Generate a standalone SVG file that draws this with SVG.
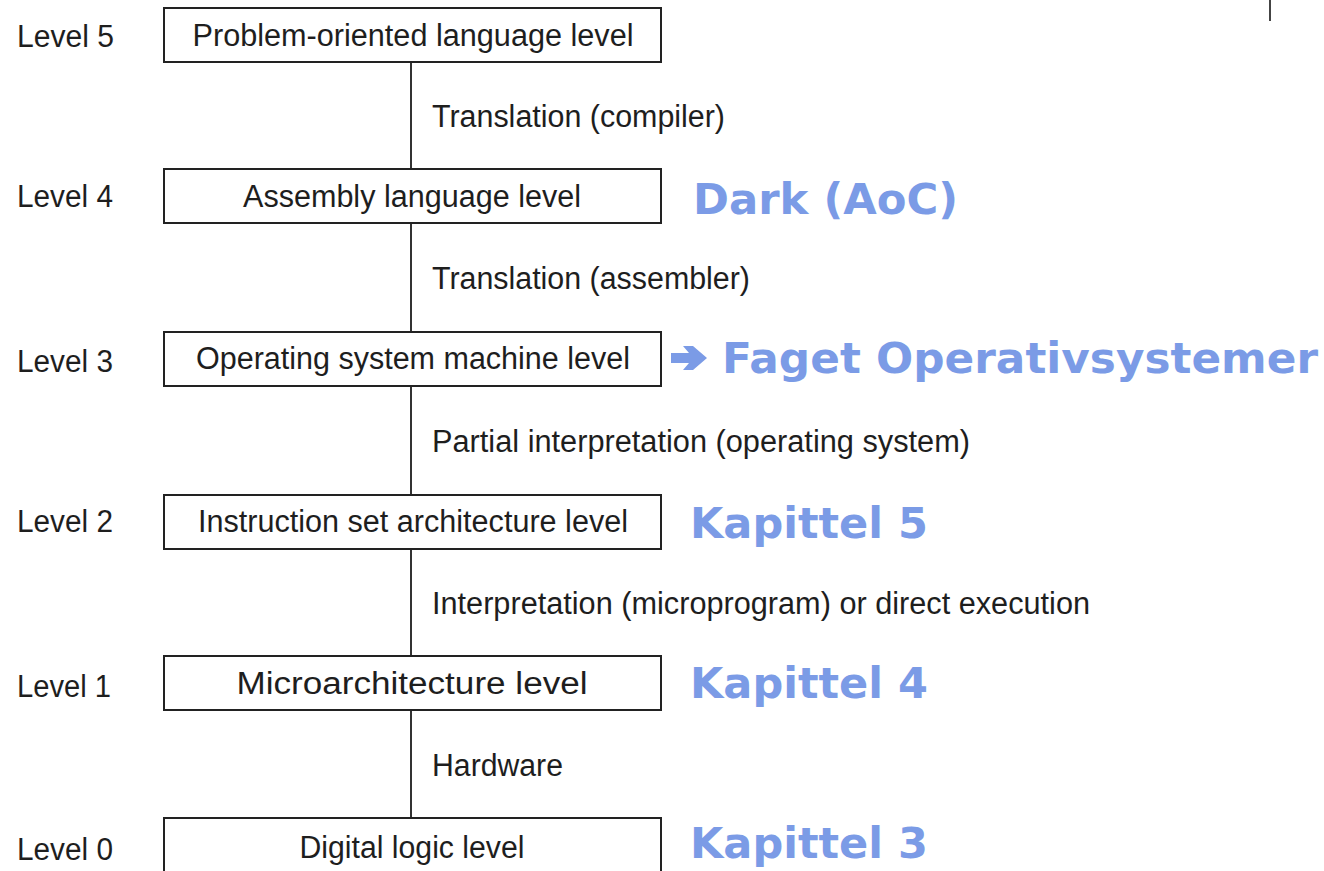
<svg xmlns="http://www.w3.org/2000/svg" width="1324" height="871" viewBox="0 0 1324 871">
<style>
.box{fill:#fff;stroke:#222;stroke-width:2}
.t{font-family:"Liberation Sans",Arial,sans-serif;font-size:31px;fill:#1e1e1e}
.m{text-anchor:middle}
.b{font-family:"DejaVu Sans",Verdana,sans-serif;font-weight:bold;font-size:43px;fill:#7b9be6}
.c{stroke:#333;stroke-width:2;fill:none}
</style>
<rect width="1324" height="871" fill="#fff"/>
<g id="connectors">
<line class="c" x1="411" y1="62" x2="411" y2="169"/>
<line class="c" x1="411" y1="223" x2="411" y2="332"/>
<line class="c" x1="411" y1="386" x2="411" y2="495"/>
<line class="c" x1="411" y1="549" x2="411" y2="656"/>
<line class="c" x1="411" y1="710" x2="411" y2="818"/>
<text class="t" x="432" y="127" textLength="293" lengthAdjust="spacingAndGlyphs">Translation (compiler)</text>
<text class="t" x="432" y="289" textLength="318" lengthAdjust="spacingAndGlyphs">Translation (assembler)</text>
<text class="t" x="432" y="452" textLength="538" lengthAdjust="spacingAndGlyphs">Partial interpretation (operating system)</text>
<text class="t" x="432" y="614" textLength="658" lengthAdjust="spacingAndGlyphs">Interpretation (microprogram) or direct execution</text>
<text class="t" x="432" y="776" textLength="131" lengthAdjust="spacingAndGlyphs">Hardware</text>
</g>
<g id="level5">
<text class="t" x="17" y="47" textLength="97" lengthAdjust="spacingAndGlyphs">Level 5</text>
<rect class="box" x="164" y="8" width="497" height="54"/>
<text class="t m" x="413" y="46" textLength="441" lengthAdjust="spacingAndGlyphs">Problem-oriented language level</text>
</g>
<g id="level4">
<text class="t" x="17" y="207" textLength="96" lengthAdjust="spacingAndGlyphs">Level 4</text>
<rect class="box" x="164" y="169" width="497" height="54"/>
<text class="t m" x="412" y="207" textLength="338" lengthAdjust="spacingAndGlyphs">Assembly language level</text>
<text class="b" x="693" y="214" textLength="265" lengthAdjust="spacingAndGlyphs">Dark (AoC)</text>
</g>
<g id="level3">
<text class="t" x="17" y="372" textLength="96" lengthAdjust="spacingAndGlyphs">Level 3</text>
<rect class="box" x="164" y="332" width="497" height="54"/>
<text class="t m" x="413" y="369" textLength="434" lengthAdjust="spacingAndGlyphs">Operating system machine level</text>
<polygon points="671,353 689,353 683,346 693,346 707,358 693,370 683,370 689,363 671,363" fill="#7b9be6"/>
<text class="b" x="722" y="373" textLength="596" lengthAdjust="spacingAndGlyphs">Faget Operativsystemer</text>
</g>
<g id="level2">
<text class="t" x="17" y="532" textLength="96" lengthAdjust="spacingAndGlyphs">Level 2</text>
<rect class="box" x="164" y="495" width="497" height="54"/>
<text class="t m" x="413" y="532" textLength="430" lengthAdjust="spacingAndGlyphs">Instruction set architecture level</text>
<text class="b" x="690" y="538" textLength="238" lengthAdjust="spacingAndGlyphs">Kapittel 5</text>
</g>
<g id="level1">
<text class="t" x="17" y="697" textLength="94" lengthAdjust="spacingAndGlyphs">Level 1</text>
<rect class="box" x="164" y="656" width="497" height="54"/>
<text class="t m" x="412" y="694" textLength="351" lengthAdjust="spacingAndGlyphs">Microarchitecture level</text>
<text class="b" x="690" y="698" textLength="238" lengthAdjust="spacingAndGlyphs">Kapittel 4</text>
</g>
<g id="level0">
<text class="t" x="17" y="860" textLength="96" lengthAdjust="spacingAndGlyphs">Level 0</text>
<rect class="box" x="164" y="818" width="497" height="56"/>
<text class="t m" x="412" y="858" textLength="225" lengthAdjust="spacingAndGlyphs">Digital logic level</text>
<text class="b" x="690" y="858" textLength="238" lengthAdjust="spacingAndGlyphs">Kapittel 3</text>
</g>
<line x1="1270" y1="0" x2="1270" y2="21" stroke="#444" stroke-width="2"/>
</svg>
